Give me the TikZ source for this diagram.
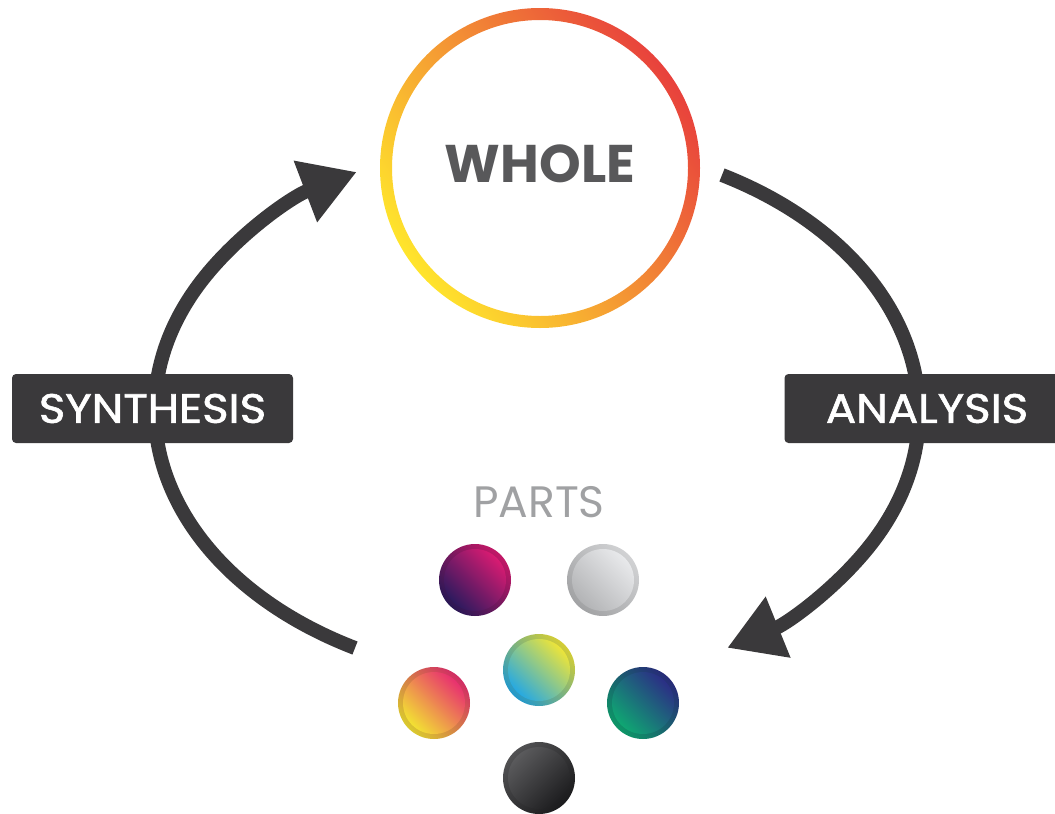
\documentclass[tikz,border=0pt]{standalone}
\usepackage{fontspec}
\setmainfont{Poppins}
\newfontfamily\lblfont[FakeBold=1.4]{Poppins}
\usetikzlibrary{arrows.meta}
\definecolor{flowc}{HTML}{3A393B}
\definecolor{wholetext}{HTML}{58585A}
\definecolor{partstext}{HTML}{A0A1A3}
\definecolor{ringr}{HTML}{E8413C}
\definecolor{ringo}{HTML}{F5953A}
\definecolor{ringy}{HTML}{FFE52C}
\definecolor{pAa}{HTML}{D81B72}\definecolor{pAb}{HTML}{2E1A5E}
\definecolor{pBa}{HTML}{E8E9EB}\definecolor{pBb}{HTML}{B3B4B6}
\definecolor{pCa}{HTML}{ECE43A}\definecolor{pCb}{HTML}{27A9E1}
\definecolor{pDa}{HTML}{E8316F}\definecolor{pDb}{HTML}{F2E033}
\definecolor{pEa}{HTML}{2B2F85}\definecolor{pEb}{HTML}{0FA672}
\definecolor{pFa}{HTML}{5A5A5C}\definecolor{pFb}{HTML}{1E1E20}
\tikzset{
  flow/.style={draw=flowc, line width=14pt, -{Triangle[length=55pt,width=62pt]}},
  labelbox/.style={fill=flowc, rounded corners=4pt, minimum height=69pt, inner sep=0pt,
    text=white, font=\lblfont\fontsize{41}{41}\selectfont},
  partball/.style n args={3}{circle, minimum size=72pt, inner sep=0pt, shading=axis,
    top color=#1!90!black, bottom color=#2!90!black, shading angle=#3},
  partcore/.style n args={3}{shading=axis, top color=#1, bottom color=#2, shading angle=#3},
}
\newcommand\myball[6]{%
  \node[partball={#4}{#5}{#6}] (#1) at (#2,#3) {};
  \shade[partcore={#4}{#5}{#6}] (#1.center) circle (31);
}
\begin{document}
\begin{tikzpicture}[x=1pt,y=-1pt]
\useasboundingbox (0,0) rectangle (1055,814);
% whole
\node[circle, minimum size=320pt, inner sep=0pt] (whole) at (540,168) {};
\shade[even odd rule, shading=axis, top color=ringr, middle color=ringo, bottom color=ringy, shading angle=-55]
  (whole.center) circle (160) (whole.center) circle (148);
\node[text=wholetext, font=\bfseries\fontsize{53}{53}\selectfont] (wholelbl) at (540,164) {WHOLE};
% flows
\coordinate (sStart) at (355,648);
\coordinate (aStart) at (722,175);
\draw[flow] (sStart) arc[start angle=118.7, end angle=241.6, x radius=385, y radius=271];
\draw[flow] (aStart) arc[start angle=-61.2, end angle=60.3, x radius=380, y radius=271];
% labels
\node[labelbox, minimum width=281pt] (syn) at (152.5,408.5) {\scalebox{1.1}[1]{SYNTHESIS}};
\node[labelbox, minimum width=285pt] (ana) at (927,408.5) {\scalebox{1.1}[1]{ANALYSIS}};
% parts
\node[text=partstext, font=\fontsize{44}{44}\selectfont] (parts) at (539,502.5) {PARTS};
\myball{p1}{475}{580}{pAa}{pAb}{-45}
\myball{p2}{603}{580}{pBa}{pBb}{-45}
\myball{p3}{539}{670}{pCa}{pCb}{-45}
\myball{p4}{434}{703}{pDa}{pDb}{-45}
\myball{p5}{643}{703}{pEa}{pEb}{-45}
\myball{p6}{539}{778}{pFa}{pFb}{45}
\end{tikzpicture}
\end{document}
